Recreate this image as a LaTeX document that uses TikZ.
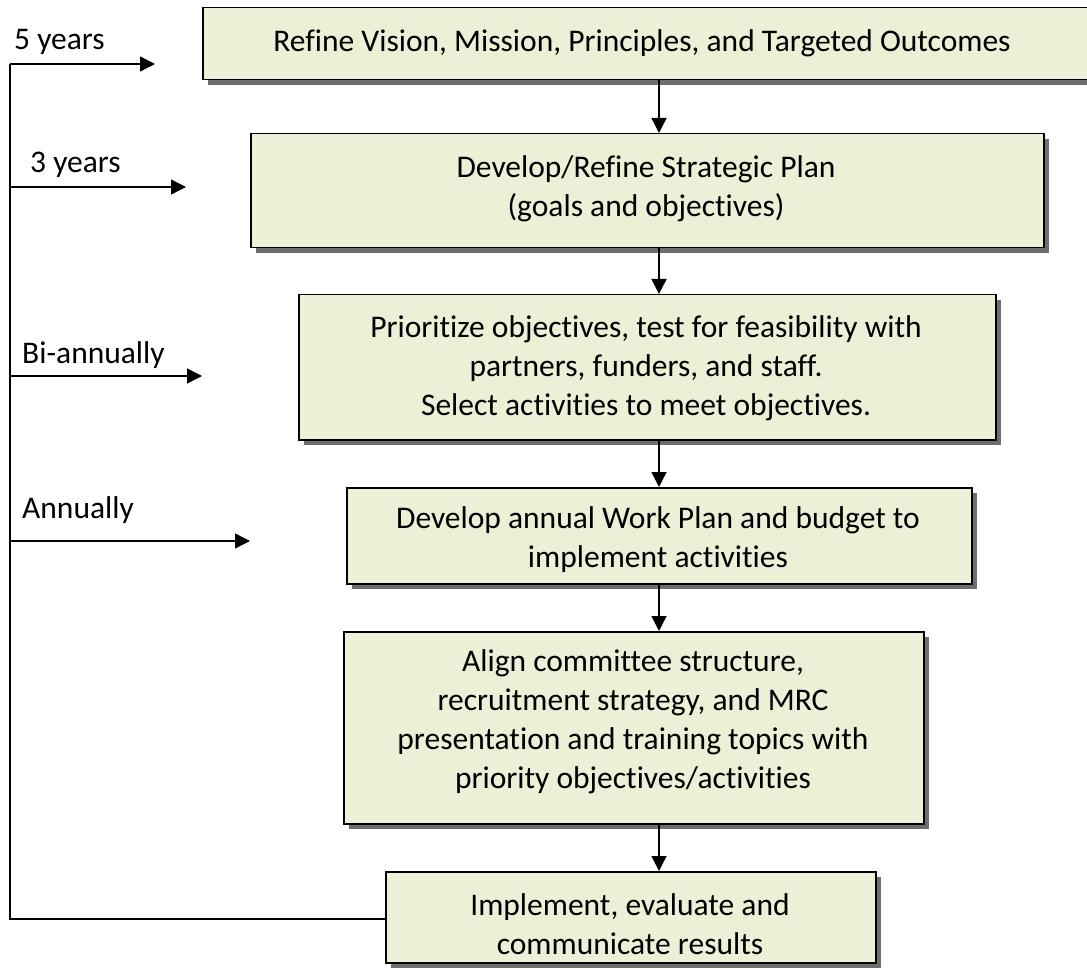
\documentclass[tikz,border=0pt]{standalone}
\usepackage{fontspec}
\setmainfont{Carlito}[Ligatures={CommonOff,ContextualOff}]
\usetikzlibrary{arrows.meta,shadows}
\definecolor{boxfill}{RGB}{235,240,214}
\definecolor{shadowgray}{RGB}{110,110,110}
\begin{document}
\begin{tikzpicture}[x=1pt,y=-1pt,
  box/.style={draw=black, line width=1.5pt, fill=boxfill, anchor=north west, inner sep=0pt,
    drop shadow={shadow xshift=5pt, shadow yshift=-5pt, fill=shadowgray, opacity=1}},
  txt/.style={align=center, font=\fontsize{31.5}{39}\selectfont, inner sep=0pt},
  lbl/.style={anchor=base west, font=\fontsize{31.5}{39}\selectfont, inner sep=0pt},
  conn/.style={draw=black, line width=1.4pt},
  arr/.style={conn, -{Triangle[length=15pt,width=15pt]}}]
\useasboundingbox (0,0) rectangle (1087,968);
\fill[white] (0,0) rectangle (1087,968);

\node[box, minimum width=890pt, minimum height=72pt] (b1) at (202,7) {};
\node[box, minimum width=793pt, minimum height=114pt] (b2) at (250,133) {};
\node[box, minimum width=697pt, minimum height=145pt] (b3) at (298,294) {};
\node[box, minimum width=625pt, minimum height=96pt] (b4) at (346,487) {};
\node[box, minimum width=580pt, minimum height=192pt] (b5) at (343,631) {};
\node[box, minimum width=490pt, minimum height=91pt] (b6) at (385,871) {};

\node[txt] (t1) at (642,43) {Refine Vision, Mission, Principles, and Targeted Outcomes};
\node[txt] (t2) at (646,189) {Develop/Refine Strategic Plan\\(goals and objectives)};
\node[txt] (t3) at (646,368) {Prioritize objectives, test for feasibility with\\partners, funders, and staff.\\Select activities to meet objectives.};
\node[txt] (t4) at (658,540) {Develop annual Work Plan and budget to\\implement activities};
\node[txt] (t5) at (633,722) {Align committee structure,\\recruitment strategy, and MRC\\presentation and training topics with\\priority objectives/activities};
\node[txt] (t6) at (630,924) {Implement, evaluate and\\communicate results};

\coordinate (ax) at (659,0);
\draw[arr] (b1.south -| ax) -- (b2.north -| ax);
\draw[arr] (b2.south -| ax) -- (b3.north -| ax);
\draw[arr] (b3.south -| ax) -- (b4.north -| ax);
\draw[arr] (b4.south -| ax) -- (b5.north -| ax);
\draw[arr] (b5.south -| ax) -- (b6.north -| ax);

\coordinate (c5) at (10,64);
\coordinate (c3) at (10,187);
\coordinate (cb) at (10,376);
\coordinate (ca) at (10,541);
\coordinate (c0) at (10,919);
\coordinate (e5) at (155,64);
\coordinate (e3) at (186,187);
\coordinate (eb) at (202,376);
\coordinate (ea) at (250,541);
\draw[conn] (b6.west |- c0) -- (c0) -- (c5);
\draw[arr] (c5) -- (e5);
\draw[arr] (c3) -- (e3);
\draw[arr] (cb) -- (eb);
\draw[arr] (ca) -- (ea);

\node[lbl] (l5) at (14,50) {5 years};
\node[lbl] (l3) at (30,173) {3 years};
\node[lbl] (lb) at (22,363) {Bi-annually};
\node[lbl] (la) at (22,518) {Annually};
\end{tikzpicture}
\end{document}
